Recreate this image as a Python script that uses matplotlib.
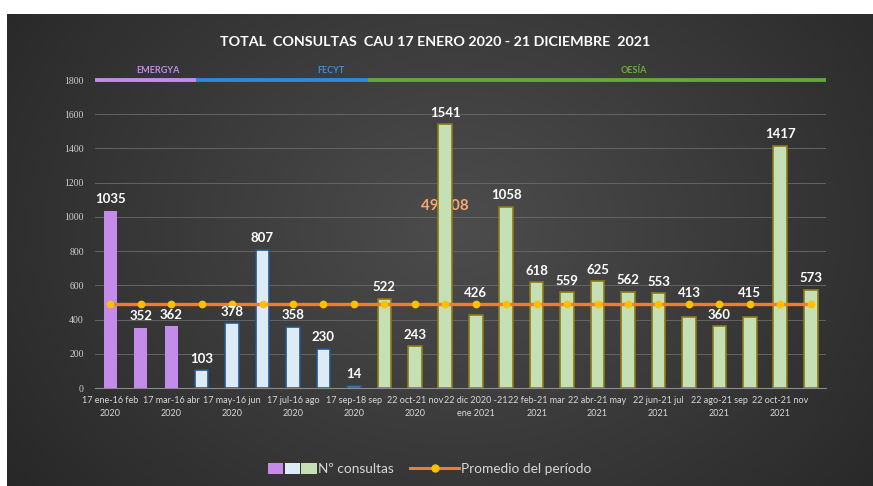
import numpy as np
import matplotlib
matplotlib.use("Agg")
import matplotlib.pyplot as plt
from matplotlib.patches import Patch
from matplotlib.lines import Line2D
from matplotlib.legend_handler import HandlerTuple

# ---------------------------------------------------------------- datos
consultas = [1035, 352, 362, 103, 378, 807, 358, 230, 14, 522, 243, 1541,
             426, 1058, 618, 559, 625, 562, 553, 413, 360, 415, 1417, 573]
empresa = (["EMERGYA"] * 3) + (["FECYT"] * 6) + (["OESÍA"] * 15)
promedio = 490.08
etiquetas = ["17 ene-16 feb\n2020", "17 mar-16 abr\n2020", "17 may-16 jun\n2020",
             "17 jul-16 ago\n2020", "17 sep-18 sep\n2020", "22 oct-21 nov\n2020",
             "22 dic 2020 -21\nene 2021", "22 feb-21 mar\n2021", "22 abr-21 may\n2021",
             "22 jun-21 jul\n2021", "22 ago-21 sep\n2021", "22 oct-21 nov\n2021"]

CARA = {"EMERGYA": "#C58BEA", "FECYT": "#DDEBF7", "OESÍA": "#C5E0B4"}
BORDE = {"EMERGYA": "#C58BEA", "FECYT": "#24578A", "OESÍA": "#8C7A12"}
TXT = {"EMERGYA": "#C58BEA", "FECYT": "#3A8EE0", "OESÍA": "#6AAE3C"}
LINEA = {"EMERGYA": "#C58BEA", "FECYT": "#2F86DA", "OESÍA": "#62A83A"}

plt.rcParams["font.family"] = ["Lato", "DejaVu Sans"]

W, H = 873, 486
fig = plt.figure(figsize=(W / 100, H / 100), dpi=100, facecolor="white")

# ---------------------------------------------------------------- fondo degradado
bg = fig.add_axes([7 / W, 0, 1 - 7 / W, 1 - 14 / H])
bg.set_axis_off()
yy, xx = np.mgrid[0:1:300j, 0:1:500j]
r = np.sqrt(((xx - 0.52) / 0.62) ** 2 + ((yy - 0.45) / 0.9) ** 2)
g = np.clip(0.30 - 0.14 * r, 0.15, 0.3)
bg.imshow(np.dstack([g, g, g]), aspect="auto", extent=(0, 1, 0, 1))

# ---------------------------------------------------------------- gráfico
ax = fig.add_axes([95 / W, 1 - 388 / H, (826 - 95) / W, (388 - 80) / H])
ax.set_facecolor("none")
x = np.arange(len(consultas))

for i, (v, e) in enumerate(zip(consultas, empresa)):
    ancho = 0.43 if e == "EMERGYA" else 0.45
    ax.bar(i, v, width=ancho, color=CARA[e], edgecolor=BORDE[e],
           linewidth=1.2 if e != "EMERGYA" else 0, zorder=3)
    # etiquetas que chocarían con la línea del promedio se suben por encima
    y_lab = promedio if promedio - 100 < v < promedio else v
    ax.annotate(f"{v}", (i, y_lab), xytext=(0, 4), textcoords="offset points",
                ha="center", va="bottom", color="white", fontsize=9.5,
                fontweight="bold", zorder=5)

ax.plot(x, [promedio] * len(x), color="#ED7D31", lw=2.4, marker="o",
        markersize=4.6, markerfacecolor="#FFC000", markeredgecolor="#FFC000",
        zorder=4)
ax.text(11, 1063, f"{promedio:.2f}".replace(".", ","), ha="center", va="center",
        color="#F4A872", fontsize=11, fontweight="bold", zorder=2)

ax.set_xlim(-0.5, len(consultas) - 0.5)
ax.set_ylim(0, 1800)
ax.set_yticks(range(0, 1801, 200))
ax.set_yticklabels([str(t) for t in range(0, 1801, 200)],
                   family="Liberation Serif", fontsize=7, color="#D0D0D0")
ax.set_xticks(x[::2])
ax.set_xticklabels(etiquetas, fontsize=6.5, color="#D8D8D8", linespacing=1.5)
ax.tick_params(length=0, pad=6)
ax.tick_params(axis="y", pad=8)
ax.grid(axis="y", color="#6A6A6A", lw=0.6, zorder=0)
for s in ["top", "right", "left"]:
    ax.spines[s].set_visible(False)
ax.spines["bottom"].set_color("#8A8A8A")
ax.spines["bottom"].set_linewidth(0.8)

# franjas de empresa arriba
tramos = [("EMERGYA", -0.5, 2.8, 1.55), ("FECYT", 2.8, 8.45, 7.25),
          ("OESÍA", 8.45, 23.5, 17.2)]
for nom, a, b, xt in tramos:
    ax.plot([a, b], [1800, 1800], color=LINEA[nom], lw=2.8, clip_on=False,
            solid_capstyle="butt", zorder=6)
    ax.text(xt, 1855, nom, ha="center", va="center", color=TXT[nom],
            fontsize=6.5, fontweight="bold")

fig.text(0.498, 1 - 42 / H, "TOTAL  CONSULTAS  CAU 17 ENERO 2020 - 21 DICIEMBRE  2021",
         ha="center", va="center", color="white", fontsize=10.3, fontweight="bold")

# leyenda
h_barras = tuple(Patch(facecolor=CARA[k], edgecolor="none") for k in CARA)
h_linea = Line2D([], [], color="#ED7D31", lw=2.2, marker="o", markersize=5,
                 markerfacecolor="#FFC000", markeredgecolor="#FFC000")
fig.legend([h_barras, h_linea], ["Nº consultas", "Promedio del período"],
           handler_map={tuple: HandlerTuple(ndivide=None, pad=0.1)},
           loc="center", bbox_to_anchor=(0.492, 1 - 469 / H), ncol=2,
           frameon=False, fontsize=9.8, labelcolor="#D8D8D8",
           handlelength=3.6, handleheight=0.9, handletextpad=0.1,
           columnspacing=1.2)

fig.savefig("out.png", dpi=100, facecolor="white")
